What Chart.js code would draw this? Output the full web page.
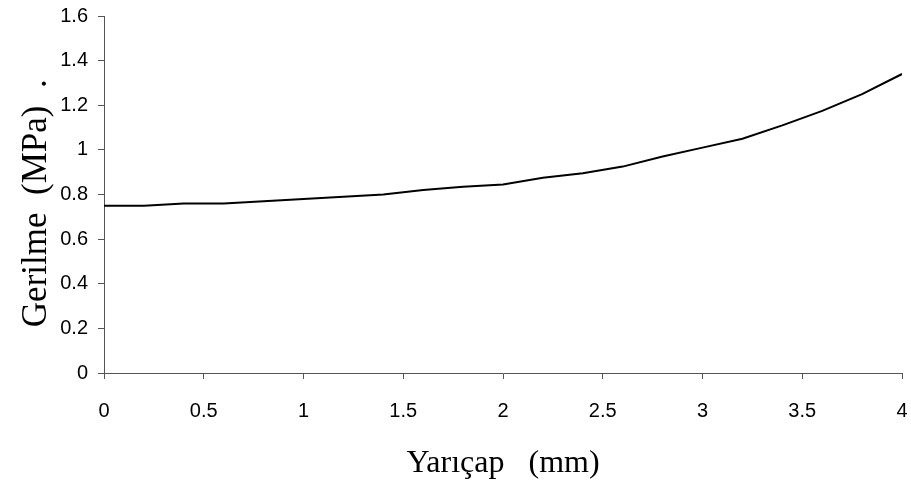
<!DOCTYPE html>
<html>
<head>
<meta charset="utf-8">
<script src="https://cdn.jsdelivr.net/npm/chart.js@4/dist/chart.umd.min.js"></script>
<style>
  html, body { margin: 0; padding: 0; background: #fff; }
  #wrap { width: 911px; height: 488px; }
</style>
</head>
<body>
<div id="wrap"><canvas id="chart"></canvas></div>
<script>
// Yarıçap (mm)
const radius = [0, 0.2, 0.4, 0.6, 0.8, 1.0, 1.2, 1.4, 1.6, 1.8, 2.0,
                2.2, 2.4, 2.6, 2.8, 3.0, 3.2, 3.4, 3.6, 3.8, 4.0];
// Gerilme (MPa)
const stress = [0.75, 0.75, 0.76, 0.76, 0.77, 0.78, 0.79, 0.80, 0.82, 0.835, 0.845,
                0.875, 0.895, 0.925, 0.97, 1.01, 1.05, 1.11, 1.175, 1.25, 1.34];

const xTitle = 'Yarıçap   (mm)';
const yTitle = 'Gerilme  (MPa)  .  ';

const axisColor = '#555';
const tickFont  = { family: '"Liberation Sans", Arial, sans-serif', size: 20 };
const serif     = '"Liberation Serif", "Times New Roman", serif';

const fmt = v => String(+Number(v).toFixed(2));

new Chart(document.getElementById('chart'), {
  type: 'line',
  data: {
    datasets: [{
      data: radius.map((r, i) => ({ x: r, y: stress[i] })),
      borderColor: '#000',
      borderWidth: 2,
      pointRadius: 0,
      tension: 0,
      fill: false,
    }],
  },
  options: {
    responsive: true,
    maintainAspectRatio: false,
    animation: false,
    layout: { padding: { top: 16, right: 9, left: 0, bottom: 0 } },
    plugins: {
      legend:  { display: false },
      tooltip: { enabled: false },
    },
    scales: {
      x: {
        type: 'linear',
        min: 0, max: 4,
        ticks: { stepSize: 0.5, color: '#000', font: tickFont, padding: 20, callback: fmt, maxRotation: 0 },
        grid: { drawOnChartArea: false, drawTicks: true, tickLength: 6, color: axisColor },
        border: { display: true, color: axisColor, width: 1 },
        title: { display: true, text: xTitle, color: '#000', font: { family: serif, size: 32 }, padding: { top: 8, bottom: 5 } },
        afterFit(scale) {
          scale.height = 115;
          scale.paddingLeft = 0;
          scale.paddingRight = 0;
        },
      },
      y: {
        min: 0, max: 1.6,
        ticks: { stepSize: 0.2, color: '#000', font: tickFont, padding: 10, callback: fmt },
        grid: { drawOnChartArea: false, drawTicks: true, tickLength: 6, color: axisColor },
        border: { display: true, color: axisColor, width: 1 },
        title: { display: true, text: yTitle, color: '#000', font: { family: serif, size: 35 }, padding: { top: 16, bottom: 4 } },
        afterFit(scale) {
          scale.width = 104;
          scale.paddingTop = 0;
          scale.paddingBottom = 0;
        },
      },
    },
  },
});
</script>
</body>
</html>
